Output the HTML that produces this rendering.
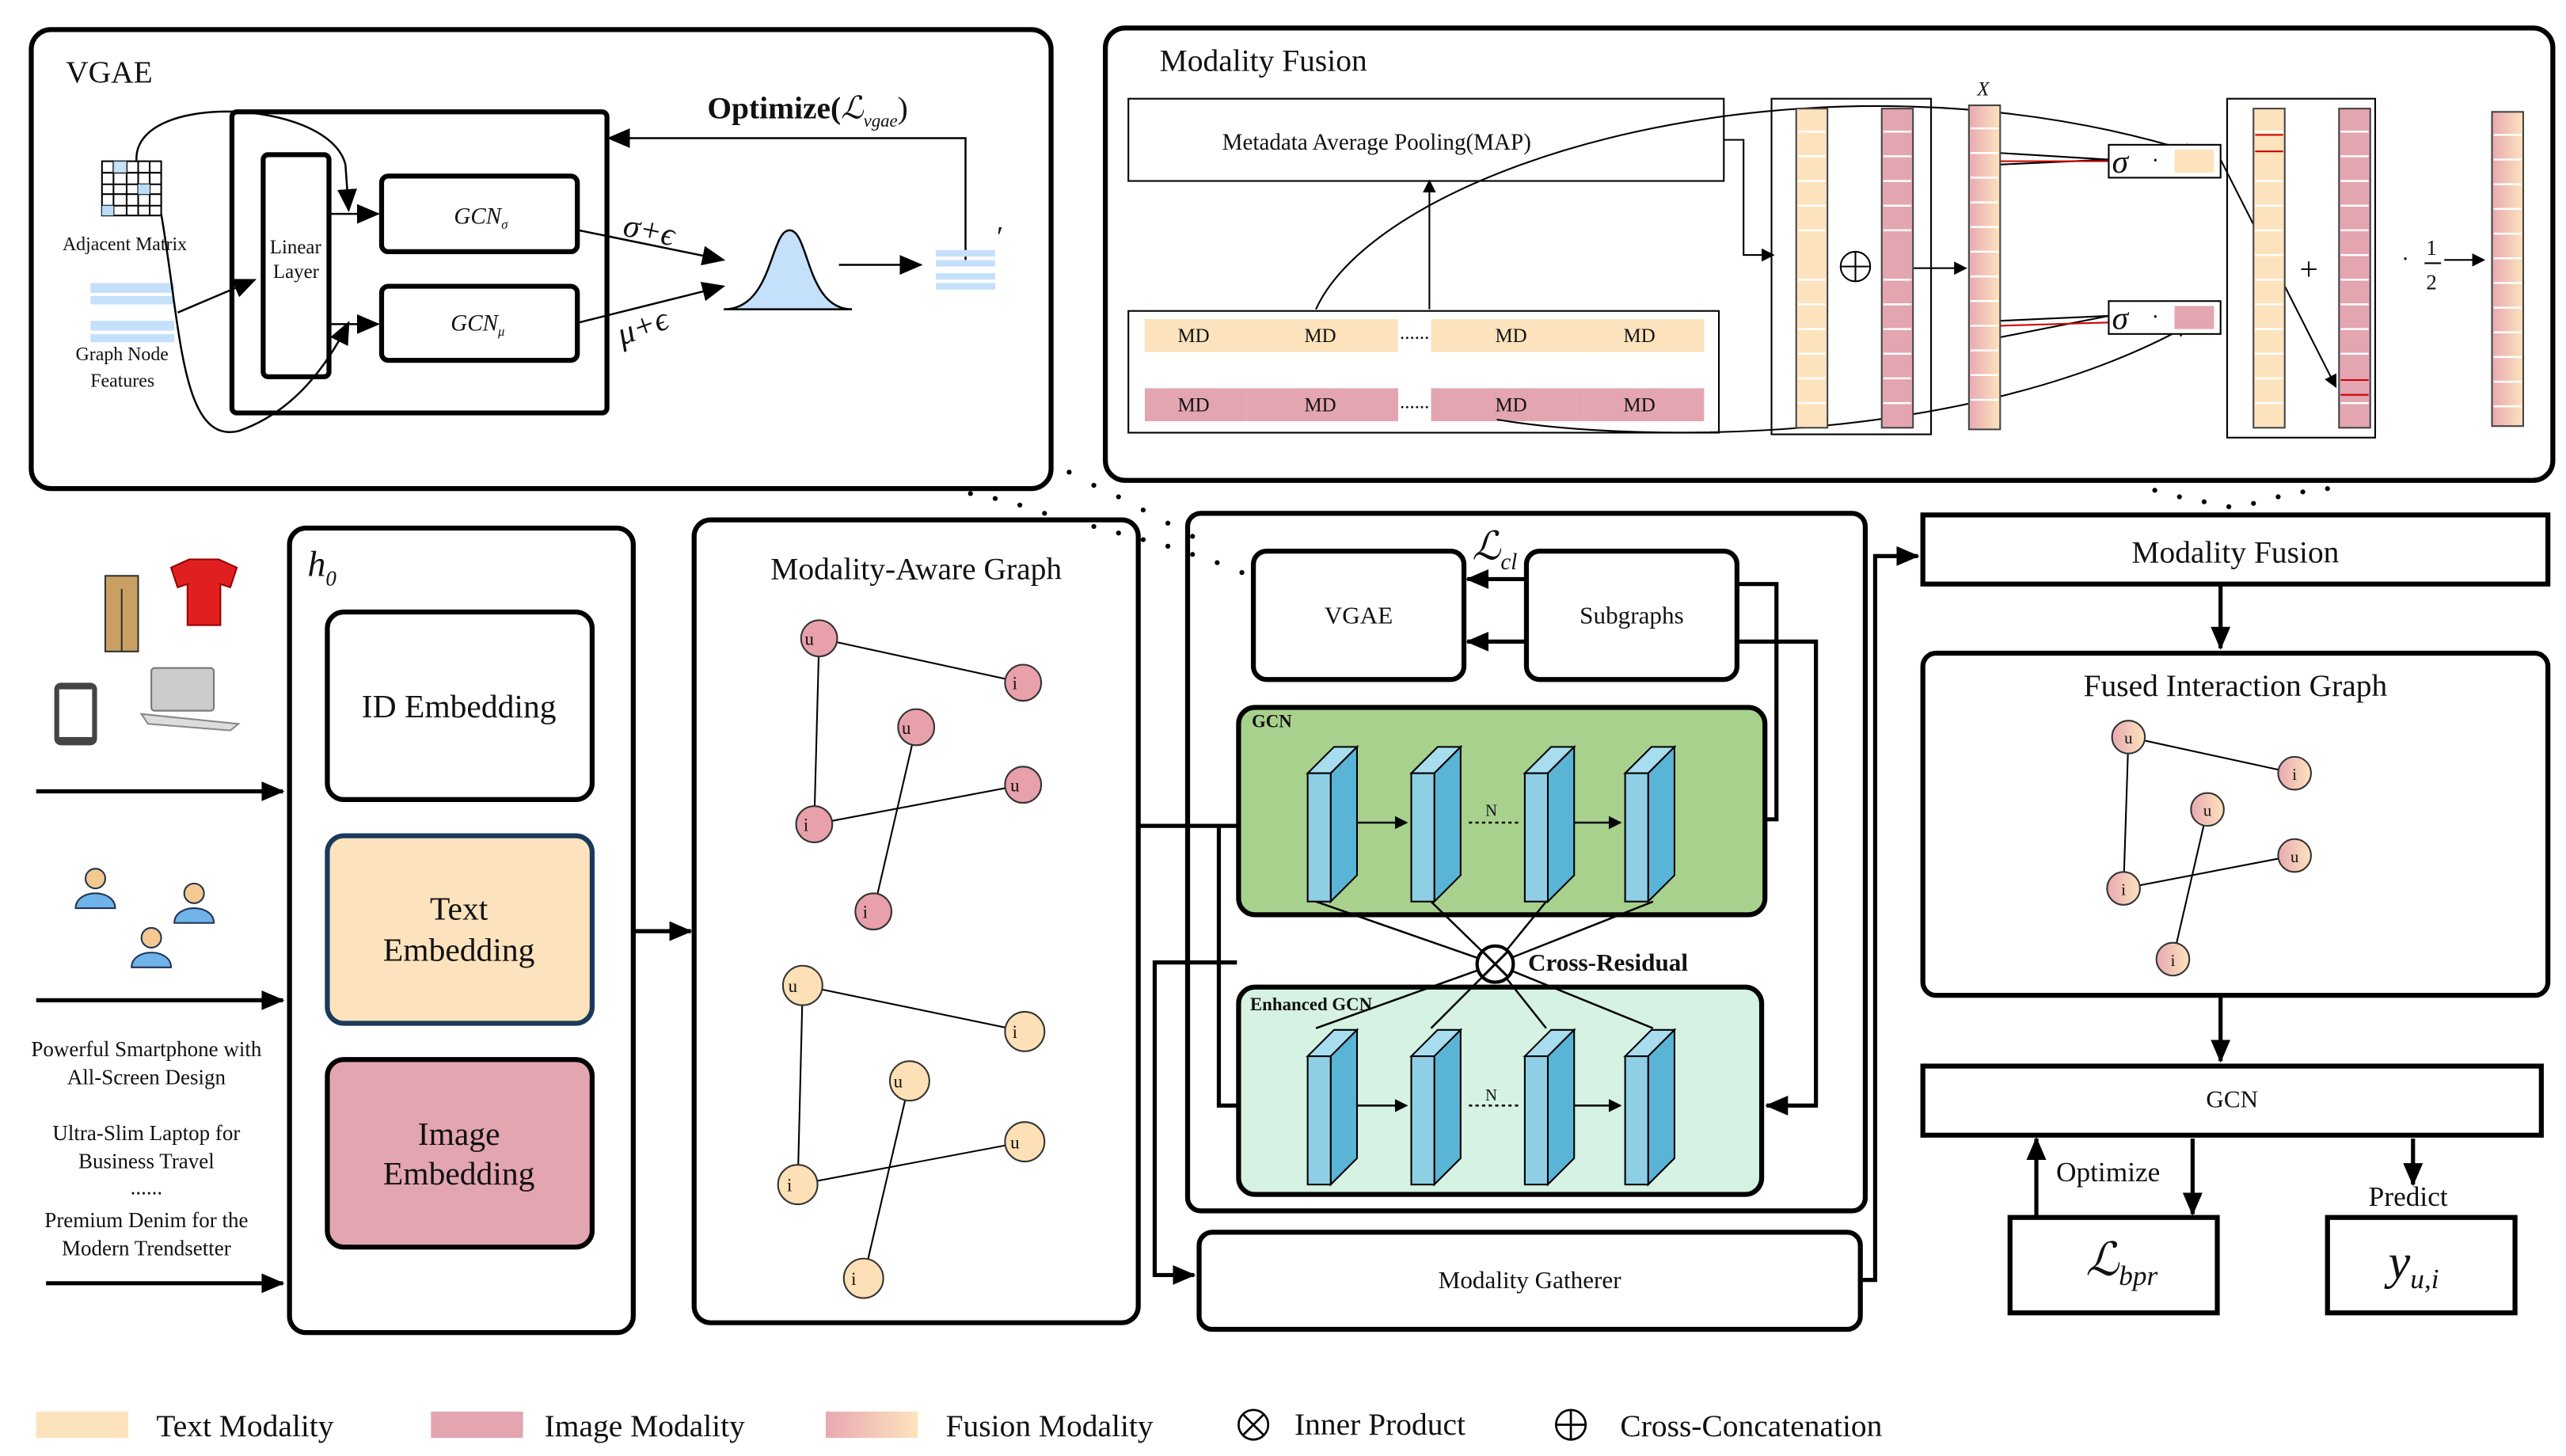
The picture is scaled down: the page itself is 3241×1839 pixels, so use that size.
<!DOCTYPE html>
<html><head><meta charset="utf-8"><style>
html,body{margin:0;padding:0;background:#fff;}
svg{display:block;}
svg text{font-family:"Liberation Serif","DejaVu Serif",serif;fill:#111;}
</style></head><body>
<svg width="3241" height="1839" viewBox="0 0 1560 885" preserveAspectRatio="none" font-family="Liberation Serif, DejaVu Serif, serif" xmlns="http://www.w3.org/2000/svg">
<defs>
<marker id="a" markerWidth="8" markerHeight="8" refX="7" refY="4" orient="auto" markerUnits="userSpaceOnUse"><path d="M0,0 L8,4 L0,8 z" fill="#000"/></marker>
<marker id="b" markerWidth="14" markerHeight="12" refX="13" refY="6" orient="auto" markerUnits="userSpaceOnUse"><path d="M0,0 L14,6 L0,12 z" fill="#000"/></marker>
<linearGradient id="fg" x1="0" x2="1"><stop offset="0" stop-color="#e8a9b2"/><stop offset="1" stop-color="#fde3bd"/></linearGradient>
<g id="cube"><path d="M0,16 L16,0 L30,0 L14,16 z" fill="#a8dcef" stroke="#000" stroke-width="1"/><path d="M14,16 L30,0 L30,78 L14,94 z" fill="#5ab4d6" stroke="#000" stroke-width="1"/><rect x="0" y="16" width="14" height="78" fill="#8ecfe6" stroke="#000" stroke-width="1"/></g>
</defs>

<!-- VGAE box -->
<rect x="19" y="18" width="620" height="279" rx="12" fill="#fff" stroke="#000" stroke-width="3"/>
<text x="40" y="50" font-size="19">VGAE</text>
<g stroke="#000" stroke-width="1" fill="#fff">
<rect x="62" y="98" width="36" height="33"/>
<path d="M69,98v33M77,98v33M84,98v33M91,98v33M62,105h36M62,112h36M62,118h36M62,125h36" fill="none"/>
</g>
<rect x="69" y="98" width="8" height="7" fill="#bcdcf8" opacity=".8"/><rect x="84" y="112" width="7" height="6" fill="#bcdcf8"/><rect x="62" y="125" width="7" height="6" fill="#bcdcf8"/>
<text x="38" y="152" font-size="11.5">Adjacent Matrix</text>
<rect x="55" y="172" width="51" height="6" fill="#c5e0fb"/><rect x="55" y="180" width="51" height="5" fill="#c5e0fb"/>
<rect x="55" y="195" width="51" height="6" fill="#c5e0fb"/><rect x="55" y="203" width="51" height="5" fill="#c5e0fb"/>
<text x="46" y="219" font-size="11.5">Graph Node</text><text x="55" y="235" font-size="11.5">Features</text>
<rect x="141" y="68" width="228" height="183" rx="3" fill="none" stroke="#000" stroke-width="3"/>
<rect x="160" y="94" width="40" height="135" rx="3" fill="none" stroke="#000" stroke-width="3"/>
<text x="164" y="154" font-size="12">Linear</text><text x="166" y="169" font-size="12">Layer</text>
<rect x="232" y="107" width="119" height="46" rx="4" fill="none" stroke="#000" stroke-width="3"/>
<text x="276" y="136" font-size="14" font-style="italic">GCN<tspan font-size="8" dy="3">σ</tspan></text>
<rect x="232" y="174" width="119" height="45" rx="4" fill="none" stroke="#000" stroke-width="3"/>
<text x="274" y="201" font-size="14" font-style="italic">GCN<tspan font-size="8" dy="3">μ</tspan></text>
<g fill="none" stroke="#000" stroke-width="1.2">
<path d="M200,130 H230" marker-end="url(#b)"/><path d="M200,197 H230" marker-end="url(#b)"/>
<path d="M83,98 C80,55 200,60 210,100 L212,128" marker-end="url(#b)"/>
<path d="M98,130 C110,200 110,270 145,262 C180,250 200,220 212,196" marker-end="url(#b)"/>
<path d="M108,190 L155,170" marker-end="url(#b)"/>
<path d="M352,140 L440,158" marker-end="url(#b)"/><path d="M352,196 L440,174" marker-end="url(#b)"/>
<path d="M510,161 H560" marker-end="url(#b)"/>
<path d="M587,158 V84 H370" marker-end="url(#b)"/>
</g>
<text x="378" y="143" font-size="20" font-style="italic" transform="rotate(12 378 143)">σ+ϵ</text>
<text x="378" y="210" font-size="20" font-style="italic" transform="rotate(-20 378 210)">μ+ϵ</text>
<path d="M440,188 C470,188 468,140 480,140 C492,140 490,188 518,188 Z" fill="#c5e0fb" stroke="#000" stroke-width="1.2"/>
<rect x="569" y="152" width="36" height="4" fill="#c5e0fb"/><rect x="569" y="158" width="36" height="4" fill="#c5e0fb"/><rect x="569" y="166" width="36" height="4" fill="#c5e0fb"/><rect x="569" y="172" width="36" height="4" fill="#c5e0fb"/>
<text x="606" y="150" font-size="18">′</text>
<text x="430" y="72" font-size="19"><tspan font-weight="bold">Optimize(</tspan><tspan font-style="italic">ℒ</tspan><tspan font-size="11" dy="5" font-style="italic">vgae</tspan><tspan dy="-5">)</tspan></text>

<!-- Modality Fusion top -->
<rect x="672" y="17" width="880" height="275" rx="12" fill="#fff" stroke="#000" stroke-width="3"/>
<text x="705" y="43" font-size="19">Modality Fusion</text>
<rect x="686" y="60" width="362" height="50" fill="#fff" stroke="#000" stroke-width="1"/>
<text x="743" y="91" font-size="14">Metadata Average Pooling(MAP)</text>
<rect x="686" y="189" width="359" height="74" fill="#fff" stroke="#000" stroke-width="1"/>
<g font-size="12">
<rect x="696" y="194" width="62" height="20" fill="#fde3bd"/><rect x="758" y="194" width="92" height="20" fill="#fde3bd"/>
<rect x="870" y="194" width="93" height="20" fill="#fde3bd"/><rect x="963" y="194" width="73" height="20" fill="#fde3bd"/>
<rect x="696" y="236" width="62" height="20" fill="#e3a5b0"/><rect x="758" y="236" width="92" height="20" fill="#e3a5b0"/>
<rect x="870" y="236" width="93" height="20" fill="#e3a5b0"/><rect x="963" y="236" width="73" height="20" fill="#e3a5b0"/>
<text x="716" y="208">MD</text><text x="793" y="208">MD</text><text x="909" y="208">MD</text><text x="987" y="208">MD</text>
<text x="716" y="250">MD</text><text x="793" y="250">MD</text><text x="909" y="250">MD</text><text x="987" y="250">MD</text>
<text x="851" y="206">......</text><text x="851" y="248">......</text>
</g>
<g fill="none" stroke="#000" stroke-width="1">
<path d="M869,188 V110" marker-end="url(#a)"/>
<path d="M800,188 C840,100 1100,20 1335,93" marker-end="url(#a)"/>
<path d="M910,255 C1000,270 1200,270 1330,198" marker-end="url(#a)"/>
<path d="M1048,85 H1060 V155 H1078" marker-end="url(#a)"/>
<path d="M1163,163 H1195" marker-end="url(#a)"/>
<path d="M1216,93 L1282,97 M1216,100 L1282,97" /><path d="M1216,195 L1282,192 M1216,205 L1282,192"/>
<path d="M1350,97 L1420,235" marker-end="url(#a)"/>
<path d="M1486,158 H1510" marker-end="url(#a)"/>
</g>
<path d="M1216,98 L1282,98 M1216,198 L1282,196" stroke="#c00" stroke-width="1"/>
<rect x="1077" y="60" width="97" height="204" fill="none" stroke="#000" stroke-width="1"/>
<g stroke="#fff" stroke-width="1">
<rect x="1092" y="66" width="19" height="194" fill="#fde3bd" stroke="#444"/>
<rect x="1144" y="66" width="19" height="194" fill="#e3a5b0" stroke="#444"/>
<rect x="1197" y="64" width="19" height="197" fill="url(#fg)" stroke="#444"/>
<rect x="1354" y="60" width="90" height="206" fill="none" stroke="#000"/>
<rect x="1370" y="66" width="19" height="194" fill="#fde3bd" stroke="#444"/>
<rect x="1422" y="66" width="19" height="194" fill="#e3a5b0" stroke="#444"/>
<rect x="1515" y="68" width="19" height="191" fill="url(#fg)" stroke="#444"/>
</g>
<g stroke="#fff" stroke-width="1.2">
<path d="M1093,80h17M1093,95h17M1093,110h17M1093,125h17M1093,140h17M1093,170h17M1093,185h17M1093,200h17M1093,215h17M1093,230h17M1093,245h17"/>
<path d="M1145,80h17M1145,95h17M1145,110h17M1145,125h17M1145,140h17M1145,170h17M1145,185h17M1145,200h17M1145,215h17M1145,230h17M1145,245h17"/>
<path d="M1198,78h17M1198,93h17M1198,108h17M1198,123h17M1198,138h17M1198,153h17M1198,168h17M1198,183h17M1198,198h17M1198,213h17M1198,228h17M1198,243h17"/>
<path d="M1371,80h17M1371,110h17M1371,125h17M1371,140h17M1371,155h17M1371,170h17M1371,185h17M1371,200h17M1371,215h17M1371,230h17M1371,245h17"/>
<path d="M1423,80h17M1423,95h17M1423,110h17M1423,125h17M1423,140h17M1423,155h17M1423,170h17M1423,185h17M1423,200h17M1423,215h17M1423,245h17"/>
<path d="M1516,82h17M1516,97h17M1516,112h17M1516,127h17M1516,142h17M1516,157h17M1516,172h17M1516,187h17M1516,202h17M1516,217h17M1516,232h17M1516,247h17"/>
</g>
<path d="M1371,82h17M1371,92h17M1423,231h17M1423,240h17" stroke="#c00" stroke-width="1"/>
<circle cx="1128" cy="162" r="9" fill="none" stroke="#000"/><path d="M1119,162h18M1128,153v18" stroke="#000"/>
<text x="1202" y="58" font-size="12" font-style="italic">X</text>
<rect x="1282" y="88" width="68" height="20" fill="#fff" stroke="#000"/><rect x="1322" y="91" width="24" height="14" fill="#fde3bd"/>
<text x="1284" y="105" font-size="20" font-style="italic">σ</text><text x="1308" y="102" font-size="14">·</text>
<rect x="1282" y="183" width="68" height="20" fill="#fff" stroke="#000"/><rect x="1322" y="186" width="24" height="14" fill="#e3a5b0"/>
<text x="1284" y="200" font-size="20" font-style="italic">σ</text><text x="1308" y="197" font-size="14">·</text>
<text x="1398" y="170" font-size="20">+</text>
<text x="1460" y="162" font-size="14">·</text><text x="1475" y="155" font-size="13">1</text><path d="M1474,160h10" stroke="#000"/><text x="1475" y="176" font-size="13">2</text>

<!-- dotted connectors -->
<g fill="#000"><circle cx="590" cy="300" r="1.5"/><circle cx="605" cy="303" r="1.5"/><circle cx="620" cy="307" r="1.5"/><circle cx="635" cy="312" r="1.5"/><circle cx="650" cy="316" r="1.5"/><circle cx="665" cy="320" r="1.5"/><circle cx="680" cy="324" r="1.5"/><circle cx="695" cy="328" r="1.5"/><circle cx="710" cy="332" r="1.5"/><circle cx="725" cy="337" r="1.5"/><circle cx="740" cy="342" r="1.5"/><circle cx="755" cy="348" r="1.5"/>
<circle cx="650" cy="287" r="1.5"/><circle cx="665" cy="295" r="1.5"/><circle cx="680" cy="302" r="1.5"/><circle cx="695" cy="310" r="1.5"/><circle cx="710" cy="318" r="1.5"/><circle cx="725" cy="326" r="1.5"/>
<circle cx="1310" cy="298" r="1.5"/><circle cx="1325" cy="302" r="1.5"/><circle cx="1340" cy="305" r="1.5"/><circle cx="1355" cy="308" r="1.5"/><circle cx="1370" cy="306" r="1.5"/><circle cx="1385" cy="302" r="1.5"/><circle cx="1400" cy="299" r="1.5"/><circle cx="1415" cy="297" r="1.5"/></g>

<!-- left icons -->
<rect x="64" y="350" width="20" height="46" fill="#c9a063" stroke="#333"/><path d="M74,358v38" stroke="#333"/>
<path d="M104,345 L115,340 L133,340 L144,345 L140,357 L134,355 L134,380 L114,380 L114,355 L108,357 Z" fill="#e02020" stroke="#900"/>
<rect x="33" y="415" width="26" height="38" rx="4" fill="#444"/><rect x="36" y="419" width="20" height="29" fill="#fff"/>
<rect x="92" y="406" width="38" height="26" rx="2" fill="#ccc" stroke="#777"/><path d="M86,434 L145,440 L140,444 L90,440Z" fill="#ddd" stroke="#888"/>
<g fill="#6fb3e8" stroke="#235" stroke-width="1"><circle cx="58" cy="534" r="6" fill="#f3c98f"/><path d="M46,552 C46,540 70,540 70,552Z"/><circle cx="118" cy="543" r="6" fill="#f3c98f"/><path d="M106,561 C106,549 130,549 130,561Z"/><circle cx="92" cy="570" r="6" fill="#f3c98f"/><path d="M80,588 C80,576 104,576 104,588Z"/></g>
<g fill="none" stroke="#000" stroke-width="2.5"><path d="M22,481H172" marker-end="url(#b)"/><path d="M22,608H172" marker-end="url(#b)"/><path d="M28,780H172" marker-end="url(#b)"/></g>
<g font-size="13" text-anchor="middle"><text x="89" y="642">Powerful Smartphone with</text><text x="89" y="659">All-Screen Design</text><text x="89" y="693">Ultra-Slim Laptop for</text><text x="89" y="710">Business Travel</text><text x="89" y="726">......</text><text x="89" y="746">Premium Denim for the</text><text x="89" y="763">Modern Trendsetter</text></g>

<!-- h0 -->
<rect x="176" y="321" width="209" height="489" rx="10" fill="none" stroke="#000" stroke-width="3"/>
<text x="187" y="350" font-size="22" font-style="italic">h<tspan font-size="13" dy="6">0</tspan></text>
<rect x="199" y="372" width="161" height="114" rx="10" fill="#fff" stroke="#000" stroke-width="3"/>
<text x="279" y="436" font-size="20" text-anchor="middle">ID Embedding</text>
<rect x="199" y="508" width="161" height="114" rx="10" fill="#fde3bd" stroke="#1a3a5a" stroke-width="3"/>
<text x="279" y="559" font-size="20" text-anchor="middle">Text</text><text x="279" y="584" font-size="20" text-anchor="middle">Embedding</text>
<rect x="199" y="644" width="161" height="114" rx="10" fill="#e3a5b0" stroke="#000" stroke-width="3"/>
<text x="279" y="696" font-size="20" text-anchor="middle">Image</text><text x="279" y="720" font-size="20" text-anchor="middle">Embedding</text>
<path d="M386,566H420" stroke="#000" stroke-width="2.5" marker-end="url(#b)"/>

<!-- Modality-Aware Graph -->
<rect x="422" y="316" width="270" height="488" rx="10" fill="none" stroke="#000" stroke-width="3"/>
<text x="557" y="352" font-size="19" text-anchor="middle">Modality-Aware Graph</text>
<g stroke="#000" stroke-width="1"><path d="M498,388L622,415M498,388L495,501M495,501L622,477M557,442L531,554"/>
<path d="M488,599L623,627M488,599L485,720M485,720L623,694M553,657L525,777"/></g>
<g fill="#e8a0ab" stroke="#333" stroke-width="1" font-size="10"><circle cx="498" cy="388" r="11"/><circle cx="622" cy="415" r="11"/><circle cx="557" cy="442" r="11"/><circle cx="622" cy="477" r="11"/><circle cx="495" cy="501" r="11"/><circle cx="531" cy="554" r="11"/></g>
<g fill="#fde0b5" stroke="#333" stroke-width="1"><circle cx="488" cy="599" r="12"/><circle cx="623" cy="627" r="12"/><circle cx="553" cy="657" r="12"/><circle cx="623" cy="694" r="12"/><circle cx="485" cy="720" r="12"/><circle cx="525" cy="777" r="12"/></g>
<g font-size="11" text-anchor="middle"><text x="492" y="392">u</text><text x="617" y="419">i</text><text x="551" y="446">u</text><text x="617" y="481">u</text><text x="490" y="505">i</text><text x="526" y="558">i</text>
<text x="482" y="603">u</text><text x="617" y="631">i</text><text x="546" y="661">u</text><text x="617" y="698">u</text><text x="480" y="724">i</text><text x="519" y="781">i</text></g>

<!-- Middle -->
<rect x="722" y="312" width="412" height="424" rx="8" fill="none" stroke="#000" stroke-width="3"/>
<text x="895" y="340" font-size="24" font-style="italic">ℒ<tspan font-size="14" dy="6">cl</tspan></text>
<rect x="762" y="335" width="128" height="78" rx="8" fill="#fff" stroke="#000" stroke-width="3"/>
<text x="826" y="379" font-size="15" text-anchor="middle">VGAE</text>
<rect x="928" y="335" width="128" height="78" rx="8" fill="#fff" stroke="#000" stroke-width="3"/>
<text x="992" y="379" font-size="15" text-anchor="middle">Subgraphs</text>
<g fill="none" stroke="#000" stroke-width="2.5">
<path d="M927,352H892" marker-end="url(#b)"/><path d="M927,390H892" marker-end="url(#b)"/>
<path d="M1056,355H1080V498H1074"/><path d="M1056,390H1104V672H1074" marker-end="url(#b)"/>
<path d="M693,502H792" marker-end="url(#b)"/><path d="M741,502V672H792" marker-end="url(#b)"/>
<path d="M752,585H702V775H726" marker-end="url(#b)"/>
<path d="M1130,778H1140V338H1166" marker-end="url(#b)"/>
</g>
<rect x="753" y="430" width="320" height="126" rx="10" fill="#a9d18e" stroke="#000" stroke-width="3"/>
<text x="761" y="442" font-size="11" font-weight="bold">GCN</text>
<rect x="753" y="600" width="318" height="126" rx="10" fill="#d5f2e3" stroke="#000" stroke-width="3"/>
<text x="760" y="614" font-size="11" font-weight="bold">Enhanced GCN</text>
<g fill="none" stroke="#000" stroke-width="1.2">
<path d="M824,500H855" marker-end="url(#a)"/><path d="M893,500H923" stroke-dasharray="2,2"/><path d="M955,500H985" marker-end="url(#a)"/>
<path d="M824,672H855" marker-end="url(#a)"/><path d="M893,672H923" stroke-dasharray="2,2"/><path d="M955,672H985" marker-end="url(#a)"/>
<path d="M800,548L909,586L870,548M909,586L940,548M909,586L1005,548"/>
<path d="M800,625L909,586L870,625M909,586L940,625M909,586L1005,625"/>
</g>
<use href="#cube" x="795" y="454"/><use href="#cube" x="858" y="454"/><use href="#cube" x="927" y="454"/><use href="#cube" x="988" y="454"/>
<use href="#cube" x="795" y="626"/><use href="#cube" x="858" y="626"/><use href="#cube" x="927" y="626"/><use href="#cube" x="988" y="626"/>
<text x="903" y="496" font-size="10">N</text><text x="903" y="669" font-size="10">N</text>
<circle cx="909" cy="586" r="11" fill="#fff" stroke="#000" stroke-width="2"/><path d="M901,578L917,594M917,578L901,594" stroke="#000" stroke-width="1.5"/>
<text x="929" y="590" font-size="15" font-weight="bold">Cross-Residual</text>
<rect x="729" y="749" width="402" height="59" rx="8" fill="#fff" stroke="#000" stroke-width="3"/>
<text x="930" y="783" font-size="15" text-anchor="middle">Modality Gatherer</text>

<!-- Right -->
<rect x="1169" y="313" width="380" height="42" fill="#fff" stroke="#000" stroke-width="3"/>
<text x="1359" y="342" font-size="19" text-anchor="middle">Modality Fusion</text>
<path d="M1350,356V394" stroke="#000" stroke-width="2.5" marker-end="url(#b)"/>
<rect x="1169" y="397" width="380" height="208" rx="8" fill="#fff" stroke="#000" stroke-width="3"/>
<text x="1359" y="423" font-size="19" text-anchor="middle">Fused Interaction Graph</text>
<g stroke="#000" stroke-width="1"><path d="M1294,448L1395,470M1294,448L1291,540M1291,540L1395,520M1342,492L1321,583"/></g>
<g stroke="#333" fill="url(#fg)"><circle cx="1294" cy="448" r="10"/><circle cx="1395" cy="470" r="10"/><circle cx="1342" cy="492" r="10"/><circle cx="1395" cy="520" r="10"/><circle cx="1291" cy="540" r="10"/><circle cx="1321" cy="583" r="10"/></g>
<g font-size="10" text-anchor="middle"><text x="1294" y="452">u</text><text x="1395" y="474">i</text><text x="1342" y="496">u</text><text x="1395" y="524">u</text><text x="1291" y="544">i</text><text x="1321" y="587">i</text></g>
<path d="M1350,606V645" stroke="#000" stroke-width="2.5" marker-end="url(#b)"/>
<rect x="1169" y="648" width="376" height="42" fill="#fff" stroke="#000" stroke-width="3"/>
<text x="1357" y="673" font-size="15" text-anchor="middle">GCN</text>
<g fill="none" stroke="#000" stroke-width="2.5"><path d="M1238,740V692" marker-end="url(#b)"/><path d="M1333,692V738" marker-end="url(#b)"/><path d="M1467,692V720" marker-end="url(#b)"/></g>
<text x="1250" y="718" font-size="17">Optimize</text><text x="1440" y="733" font-size="17">Predict</text>
<rect x="1222" y="740" width="126" height="58" fill="#fff" stroke="#000" stroke-width="3"/>
<text x="1268" y="775" font-size="28" font-style="italic">ℒ<tspan font-size="17" dy="6">bpr</tspan></text>
<rect x="1415" y="740" width="114" height="58" fill="#fff" stroke="#000" stroke-width="3"/>
<text x="1452" y="777" font-size="30" font-style="italic">y<tspan font-size="17" dy="6">u,i</tspan></text>

<!-- legend -->
<rect x="22" y="858" width="56" height="16" fill="#fde3bd"/><text x="95" y="873" font-size="19">Text Modality</text>
<rect x="262" y="858" width="56" height="16" fill="#e3a5b0"/><text x="331" y="873" font-size="19">Image Modality</text>
<rect x="502" y="858" width="56" height="16" fill="url(#fg)"/><text x="575" y="873" font-size="19">Fusion Modality</text>
<circle cx="762" cy="866" r="9" fill="none" stroke="#000" stroke-width="1.3"/><path d="M756,860L768,872M768,860L756,872" stroke="#000" stroke-width="1.3"/><text x="787" y="872" font-size="19">Inner Product</text>
<circle cx="955" cy="866" r="9" fill="none" stroke="#000" stroke-width="1.3"/><path d="M946,866h18M955,857v18" stroke="#000" stroke-width="1.3"/><text x="985" y="873" font-size="19">Cross-Concatenation</text>
</svg>
</body></html>
